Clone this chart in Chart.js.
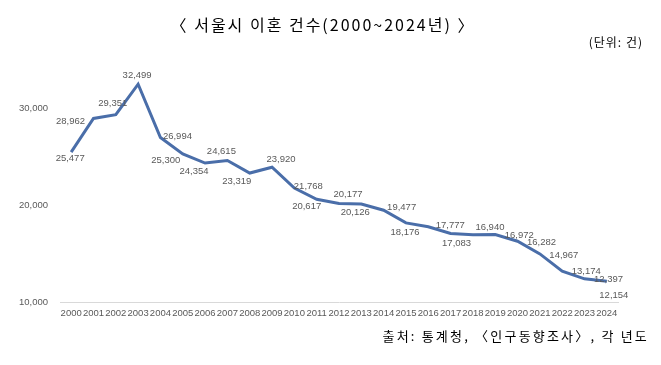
<!DOCTYPE html>
<html>
<head>
<meta charset="utf-8">
<script src="https://cdn.jsdelivr.net/npm/chart.js@4"></script>
<style>
  body { margin: 0; background: #fff; }
  #wrap { position: relative; width: 661px; height: 365px; }
  .txt { position: absolute; font-family: "Noto Sans CJK KR", sans-serif; color: #000; white-space: nowrap; }
  #title { left: 0; width: 646px; top: 12px; text-align: center; font-size: 16px; letter-spacing: 2px; }
  #unit { right: 18px; top: 33px; font-size: 12px; letter-spacing: 1px; }
  #source { right: 12px; top: 326px; font-size: 13px; letter-spacing: 2.2px; }
</style>
</head>
<body>
<div id="wrap">
  <canvas id="chart" width="661" height="365"></canvas>
  <div class="txt" id="title">〈 서울시 이혼 건수(2000~2024년) 〉</div>
  <div class="txt" id="unit">(단위: 건)</div>
  <div class="txt" id="source">출처: 통계청, 〈인구동향조사〉, 각 년도</div>
</div>
<script>
// years on the x axis
var years = ["2000", "2001", "2002", "2003", "2004", "2005", "2006", "2007", "2008", "2009",
             "2010", "2011", "2012", "2013", "2014", "2015", "2016", "2017", "2018", "2019",
             "2020", "2021", "2022", "2023", "2024"]

// divorces in Seoul per year
var divorces = [25477, 28962, 29351, 32499, 26994, 25300, 24354, 24615, 23319, 23920,
                21768, 20617, 20177, 20126, 19477, 18176, 17777, 17083, 16940, 16972,
                16282, 14967, 13174, 12397, 12154]

// y axis range and labelled ticks
var y_min = 10000
var y_max = 35000
var y_ticks = [10000, 20000, 30000]

// where each value label sits relative to its point (dx, dy)
var label_offsets = [
    [-1, 6], [-23, 3], [-3, -11], [-1, -9], [17, -1], [-17, 6], [-11, 8], [-6, -9], [-13, 8], [9, -8],
    [14, -2], [-10, 7], [9, -9], [-6, 8], [18, -3], [-1, 10], [22, -1], [6, 10], [17, -7], [24, 1],
    [24, 1], [24, 1], [24, 0], [24, 1], [7, 14]
]

// draw the value labels next to each point
var value_labels = {
    id: "value_labels",
    afterDatasetsDraw(chart) {
        var ctx = chart.ctx
        var meta = chart.getDatasetMeta(0)
        ctx.save()
        ctx.font = "9.5px 'Liberation Sans', sans-serif"
        ctx.fillStyle = "#595959"
        ctx.textAlign = "center"
        ctx.textBaseline = "middle"
        meta.data.forEach(function (pt, i) {
            var off = label_offsets[i]
            ctx.fillText(divorces[i].toLocaleString("en-US"), pt.x + off[0], pt.y + off[1])
        })
        ctx.restore()
    }
}

var chart = new Chart(document.getElementById("chart"), {
    type: "line",
    data: {
        labels: years,
        datasets: [{
            data: divorces,
            borderColor: "#4a6ea9",
            borderWidth: 3,
            pointRadius: 0,
            tension: 0
        }]
    },
    options: {
        responsive: false,
        animation: false,
        layout: { padding: { top: 60, right: 43, bottom: 41, left: 0 } },
        plugins: {
            legend: { display: false },
            tooltip: { enabled: false }
        },
        scales: {
            x: {
                offset: true,
                grid: { display: false, drawTicks: false },
                border: { display: true, color: "#d9d9d9", width: 1 },
                ticks: {
                    autoSkip: false,
                    maxRotation: 0,
                    padding: 6,
                    color: "#595959",
                    font: { family: "'Liberation Sans', sans-serif", size: 9.5 }
                },
                afterFit(axis) { axis.height = 22 }
            },
            y: {
                min: y_min,
                max: y_max,
                grid: { display: false, drawTicks: false },
                border: { display: false },
                afterBuildTicks(axis) {
                    axis.ticks = y_ticks.map(function (v) { return { value: v } })
                },
                ticks: {
                    autoSkip: false,
                    padding: 12,
                    color: "#595959",
                    font: { family: "'Liberation Sans', sans-serif", size: 9.5 },
                    callback: function (v) { return Number(v).toLocaleString("en-US") }
                },
                afterFit(axis) { axis.width = 60 }
            }
        }
    },
    plugins: [value_labels]
});
</script>
</body>
</html>
